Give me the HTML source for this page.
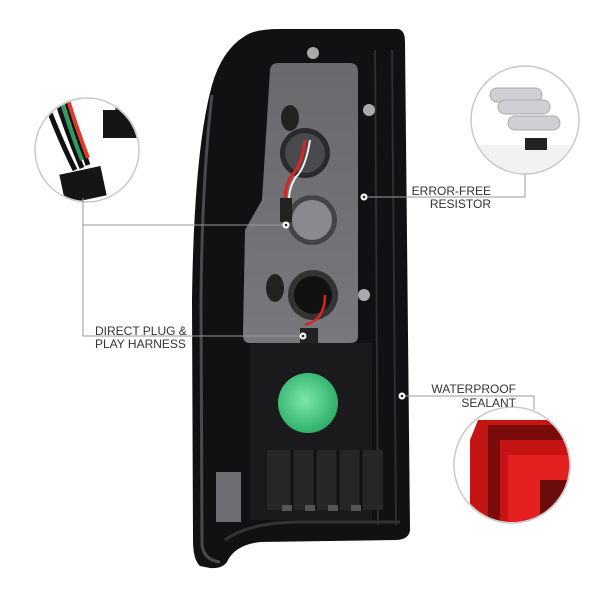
<!DOCTYPE html>
<html><head><meta charset="utf-8"><style>
html,body{margin:0;padding:0;background:#fff;width:600px;height:600px;overflow:hidden}
svg{display:block}
text{font-family:"Liberation Sans",sans-serif;font-size:12px;fill:#333}
</style></head><body>
<svg width="600" height="600" viewBox="0 0 600 600">
<defs>
<radialGradient id="g" cx="0.45" cy="0.45" r="0.55"><stop offset="0" stop-color="#7be8a8"/><stop offset="1" stop-color="#2fb06a"/></radialGradient>
<linearGradient id="panel" x1="0" y1="0" x2="0" y2="1"><stop offset="0" stop-color="#6a6a6e"/><stop offset="1" stop-color="#78787c"/></linearGradient>
<clipPath id="cr"><circle cx="512" cy="465" r="57"/></clipPath>
<clipPath id="cl"><circle cx="87" cy="150" r="51"/></clipPath>
<clipPath id="ct"><circle cx="525" cy="120" r="53"/></clipPath>
</defs>
<!-- housing -->
<path d="M245 36 Q255 29 280 29 L398 29 Q405 30 405 42 L410 530 Q409 540 395 540 L260 542 Q236 545 228 560 Q224 569 210 568 L200 566 Q193 560 193 540 L192 300 Q194 150 212 85 Q222 50 245 36 Z" fill="#111113"/>
<path d="M212 95 Q202 180 201 300 L202 545 Q204 560 220 562" fill="none" stroke="#4a4a4e" stroke-width="3"/>
<path d="M375 50 L378 525 M392 50 L396 525" stroke="#2e2e32" stroke-width="2"/>
<path d="M225 540 Q250 522 300 522 L400 522" stroke="#333" stroke-width="3" fill="none"/>
<!-- inner panel -->
<path d="M278 63 L350 63 Q358 63 358 72 L358 336 Q358 343 350 343 L250 343 Q243 343 243 335 L245 230 L262 200 L270 70 Q271 63 278 63 Z" fill="url(#panel)"/>
<circle cx="305" cy="153" r="25" fill="#2a2a2c"/>
<circle cx="305" cy="153" r="20" fill="#4a4a4e"/>
<circle cx="312" cy="220" r="25" fill="#444448"/>
<circle cx="312" cy="220" r="20" fill="#8a8a8e"/>
<circle cx="313" cy="295" r="25" fill="#333"/>
<circle cx="313" cy="295" r="19" fill="#111"/>
<ellipse cx="290" cy="118" rx="9" ry="13" fill="#222"/>
<ellipse cx="275" cy="288" rx="9" ry="14" fill="#222"/>
<path d="M305 140 Q302 165 292 175 Q285 185 285 200" stroke="#d22" stroke-width="3" fill="none"/>
<path d="M310 140 Q306 167 296 177 Q289 187 289 200" stroke="#eee" stroke-width="2" fill="none"/>
<rect x="280" y="198" width="12" height="24" fill="#222"/>
<path d="M325 295 Q325 320 305 325" stroke="#d22" stroke-width="2.5" fill="none"/>
<rect x="300" y="328" width="18" height="18" fill="#222"/>
<circle cx="313" cy="53" r="6" fill="#aaa"/>
<circle cx="369" cy="110" r="6" fill="#aaa"/>
<circle cx="364" cy="295" r="6" fill="#aaa"/>
<!-- lower area -->
<path d="M250 343 L372 343 L372 520 L250 520 Z" fill="#1a1a1c"/>
<circle cx="308" cy="403" r="30" fill="url(#g)"/>
<rect x="267" y="450" width="116" height="60" fill="#262628"/>
<g stroke="#111" stroke-width="3"><line x1="292" y1="450" x2="292" y2="510"/><line x1="315" y1="450" x2="315" y2="510"/><line x1="338" y1="450" x2="338" y2="510"/><line x1="361" y1="450" x2="361" y2="510"/></g>
<g fill="#555"><rect x="282" y="505" width="10" height="6"/><rect x="305" y="505" width="10" height="6"/><rect x="328" y="505" width="10" height="6"/><rect x="351" y="505" width="10" height="6"/></g>
<rect x="216" y="472" width="25" height="50" fill="#6e6e72"/>
<!-- left circle -->
<circle cx="87" cy="150" r="52" fill="#fff" stroke="#c8c8c8" stroke-width="1.5"/>
<g clip-path="url(#cl)">
<path d="M45 100 Q60 140 75 170 M55 95 Q68 135 82 168 M64 93 Q75 130 88 165" stroke="#111" stroke-width="5" fill="none"/>
<path d="M62 103 Q72 135 82 160" stroke="#2e9a60" stroke-width="4" fill="none"/>
<path d="M68 100 Q78 132 88 158" stroke="#e03a2a" stroke-width="4" fill="none"/>
<rect x="62" y="170" width="42" height="30" fill="#151515" transform="rotate(-12 83 185)"/>
<rect x="103" y="110" width="40" height="28" fill="#151515"/>
<path d="M115 95 L118 112 M125 92 L127 112 M134 95 L134 112" stroke="#111" stroke-width="4"/>
</g>
<!-- top-right circle -->
<circle cx="525" cy="120" r="54" fill="#fff" stroke="#c8c8c8" stroke-width="1.5"/>
<g clip-path="url(#ct)">
<rect x="478" y="145" width="110" height="50" fill="#f2f2f2"/>
<g fill="#d0d0d4" stroke="#aaa"><rect x="490" y="88" width="52" height="14" rx="7"/><rect x="498" y="100" width="52" height="14" rx="7"/><rect x="508" y="116" width="52" height="14" rx="7"/></g>
<rect x="525" y="138" width="22" height="12" fill="#222"/>
</g>
<!-- red circle -->
<circle cx="512" cy="465" r="58" fill="#fff" stroke="#c8c8c8" stroke-width="1.5"/>
<g clip-path="url(#cr)">
<path d="M478 420 L600 420 L600 540 L470 540 L470 440 Z" fill="#c41414"/>
<path d="M488 425 L600 425 L600 440 L500 440 L500 540 L488 540 Z" fill="#7a0c0c"/>
<path d="M508 455 L600 455 L600 540 L508 540 Z" fill="#e42020"/>
<path d="M540 480 L600 480 L600 540 L540 540 Z" fill="#6a0c0c"/>
</g>
<!-- leaders -->
<g stroke="#999" stroke-width="1" fill="none">
<polyline points="364,197 525,197 525,174"/>
<polyline points="286,225 83,225 83,336 303,336"/>
<line x1="83" y1="225" x2="83" y2="198"/>
<polyline points="402,396 534,396 534,410"/>
</g>
<g fill="#fff"><circle cx="364" cy="197" r="3.5"/><circle cx="286" cy="225" r="3.5"/><circle cx="303" cy="336" r="3.5"/><circle cx="402" cy="396" r="3.5"/></g>
<g fill="#222"><circle cx="364" cy="197" r="1.3"/><circle cx="286" cy="225" r="1.3"/><circle cx="303" cy="336" r="1.3"/><circle cx="402" cy="396" r="1.3"/></g>
<text x="491" y="195" text-anchor="end">ERROR-FREE</text>
<text x="491" y="208" text-anchor="end">RESISTOR</text>
<text x="95" y="335">DIRECT PLUG &amp;</text>
<text x="95" y="348">PLAY HARNESS</text>
<text x="516" y="393" text-anchor="end">WATERPROOF</text>
<text x="516" y="407" text-anchor="end">SEALANT</text>
</svg>
</body></html>
